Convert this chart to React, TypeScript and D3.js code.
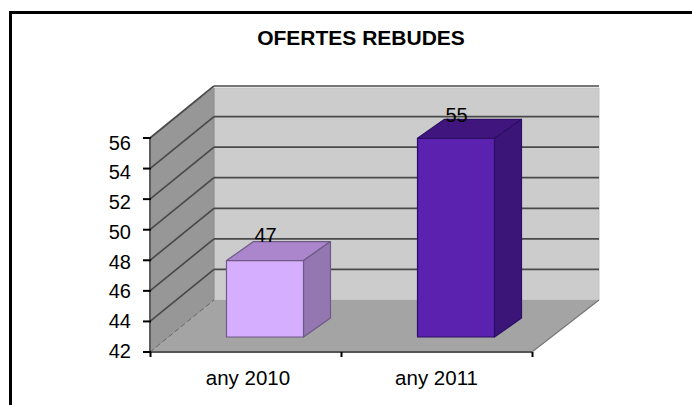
import React from "react";
import * as d3 from "d3";

const title = "OFERTES REBUDES";
const categories = ["any 2010", "any 2011"];
const barValues = [47, 55];
const yTicks = [42, 44, 46, 48, 50, 52, 54, 56];
const barFronts = ["#d6aeff", "#5a22ae"];
const barTops = ["#ab86cc", "#41187e"];
const barSides = ["#9477b0", "#3a1478"];
const barEdges = ["#6d5a85", "#2e1066"];

const W = 692, H = 405;
const FONT = "'Liberation Sans', Arial, sans-serif";
const y = d3.scaleLinear().domain([42, 56]).range([352, 138]);
const yLabel = d3.scaleLinear().domain([42, 56]).range([358, 149.5]);
const x = d3.scaleBand<string>().domain(categories).range([150, 532]);
const wallDx = 64, wallDy = 52, wallRight = 599;
const barFrontDy = 15, barFrontDx = 19.5, barWidth = 77, barDx = 27, barDy = 19;
const line = d3.line();
const poly = (p: [number, number][]) => line(p)! + "Z";

export default function App() {
  const top = y(56) - wallDy + 2;
  const gridY = (t: number) => y(t) - wallDy;
  const y0 = y(42);
  const xEnd = x.range()[1];
  const x0 = x.range()[0];
  return (
    <svg width={W} height={H} viewBox={`0 0 ${W} ${H}`}
      style={{ position: "fixed", left: 0, top: 0, display: "block", background: "#fff" }}>
      <defs>
        <filter id="soft" x="-5%" y="-5%" width="110%" height="110%">
          <feGaussianBlur stdDeviation="0.55" />
        </filter>
      </defs>
      <path d={`M10.5,${H}V12.5H${W}`} fill="none" stroke="#000" strokeWidth={3} />
      <text x={361} y={45} textAnchor="middle" fontFamily={FONT} fontWeight={700} fontSize={21} fill="#000">{title}</text>
      <g filter="url(#soft)">
        <path d={poly([[x0 + wallDx, top], [wallRight, top], [wallRight, y0 - wallDy], [x0 + wallDx, y0 - wallDy]])} fill="#cccccc" stroke="#c4c4c4" />
        <path d={poly([[x0, y(56)], [x0 + wallDx, top], [x0 + wallDx, y0 - wallDy], [x0, y0]])} fill="#979797" stroke="#8a8a8a" />
        <path d={poly([[x0, y0], [x0 + wallDx, y0 - wallDy], [wallRight, y0 - wallDy], [xEnd, y0]])} fill="#a4a4a4" />
        {yTicks.slice(1).map((t) => (
          <g key={t} stroke="#4a4a4a" strokeWidth={1.7} fill="none">
            <line x1={x0} y1={y(t)} x2={x0 + wallDx} y2={gridY(t)} />
            <line x1={x0 + wallDx} y1={gridY(t)} x2={wallRight} y2={gridY(t)} />
          </g>
        ))}
        <line x1={x0} y1={y0} x2={x0 + wallDx} y2={y0 - wallDy} stroke="#666" strokeWidth={1} strokeDasharray="5 3" />
        <line x1={xEnd} y1={y0} x2={wallRight} y2={y0 - wallDy} stroke="#777" strokeWidth={1.2} />
        <line x1={x0} y1={y0} x2={xEnd} y2={y0} stroke="#555" strokeWidth={1.8} />
        <line x1={x0} y1={y(56)} x2={x0} y2={y0} stroke="#555" strokeWidth={1.8} />
        {categories.map((c, i) => {
          const cx = x(c)! + x.bandwidth() / 2 + barFrontDx;
          const l = cx - barWidth / 2, r = cx + barWidth / 2;
          const b = y0 - barFrontDy, t = y(barValues[i]) - barFrontDy;
          return (
            <g key={c} stroke={barEdges[i]} strokeWidth={1.2} strokeLinejoin="round">
              <path d={poly([[l, t], [r, t], [r + barDx, t - barDy], [l + barDx, t - barDy]])} fill={barTops[i]} />
              <path d={poly([[r, t], [r + barDx, t - barDy], [r + barDx, b - barDy], [r, b]])} fill={barSides[i]} />
              <path d={poly([[l, t], [r, t], [r, b], [l, b]])} fill={barFronts[i]} />
            </g>
          );
        })}
      </g>
      {yTicks.map((t) => (
        <g key={t}>
          <line x1={143} x2={x0 + 1} y1={y(t)} y2={y(t)} stroke="#000" strokeWidth={2} />
          <text x={131} y={yLabel(t)} textAnchor="end" fontFamily={FONT} fontSize={20} fill="#000">{t}</text>
        </g>
      ))}
      {[x0, x0 + x.step(), xEnd].map((v) => (
        <line key={v} x1={v + 0.5} x2={v + 0.5} y1={y0} y2={y0 + 5} stroke="#000" strokeWidth={2} />
      ))}
      {categories.map((c, i) => (
        <text key={c} x={x(c)! + x.bandwidth() / 2 + (i === 0 ? 2.5 : 0)} y={385} textAnchor="middle" fontFamily={FONT} fontSize={20.5} fill="#000">{c}</text>
      ))}
      {categories.map((c, i) => (
        <text key={c} x={x(c)! + x.bandwidth() / 2 + barFrontDx + 0.5} y={y(barValues[i]) - barFrontDy - barDy + (i === 0 ? 0.5 : 2.7)} textAnchor="middle" fontFamily={FONT} fontSize={20} fill="#000">{barValues[i]}</text>
      ))}
    </svg>
  );
}
